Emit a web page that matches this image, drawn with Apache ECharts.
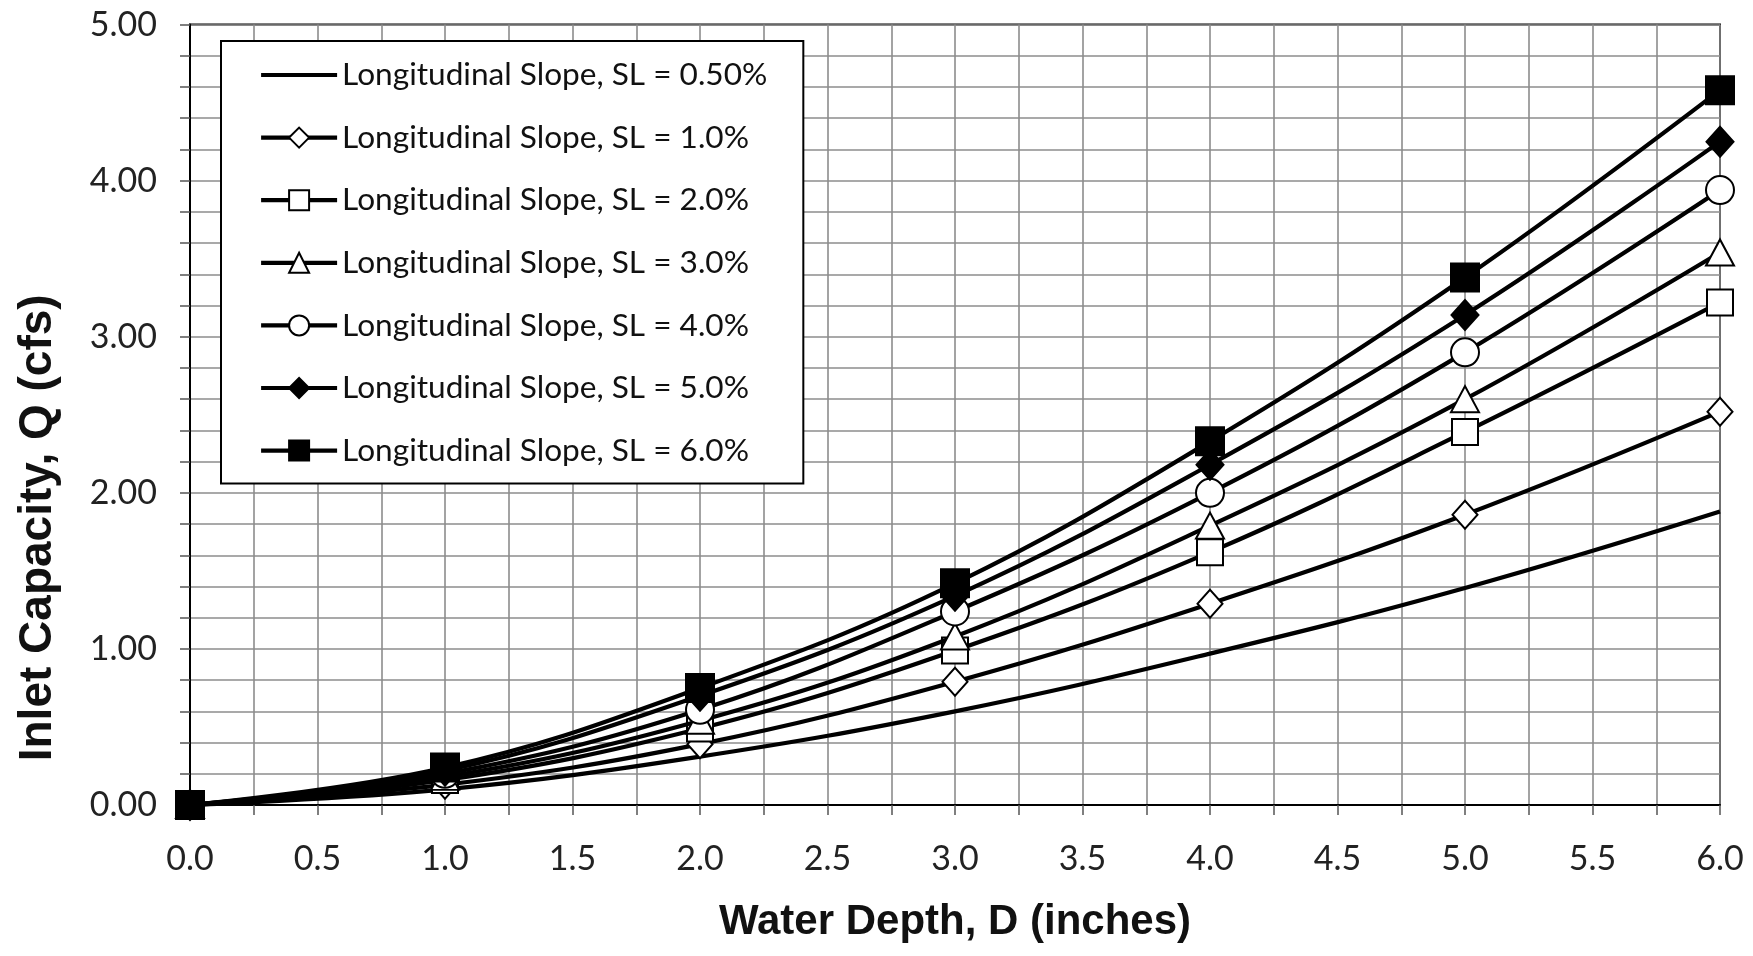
<!DOCTYPE html>
<html>
<head>
<meta charset="utf-8">
<title>Inlet Capacity vs Water Depth</title>
<script src="https://cdn.jsdelivr.net/npm/echarts@6/dist/echarts.min.js"></script>
<style>
  html, body { margin: 0; padding: 0; background: #ffffff; }
  #chart { width: 1753px; height: 956px; }
</style>
</head>
<body>
<div id="chart"></div>
<script>
// Water depth, D (inches)
const depths = [0, 1, 2, 3, 4, 5, 6];

// Inlet capacity, Q (cfs), one array per longitudinal slope
const q050 = [0, 0.10, 0.31, 0.60, 0.97, 1.39, 1.88];
const q100 = [0, 0.13, 0.39, 0.79, 1.29, 1.86, 2.52];
const q200 = [0, 0.16, 0.49, 0.99, 1.62, 2.39, 3.22];
const q300 = [0, 0.18, 0.54, 1.08, 1.79, 2.60, 3.54];
const q400 = [0, 0.20, 0.61, 1.24, 2.00, 2.90, 3.94];
const q500 = [0, 0.22, 0.70, 1.34, 2.18, 3.14, 4.25];
const q600 = [0, 0.24, 0.75, 1.42, 2.33, 3.38, 4.58];

const seriesNames = [
  'Longitudinal Slope, SL = 0.50%',
  'Longitudinal Slope, SL = 1.0%',
  'Longitudinal Slope, SL = 2.0%',
  'Longitudinal Slope, SL = 3.0%',
  'Longitudinal Slope, SL = 4.0%',
  'Longitudinal Slope, SL = 5.0%',
  'Longitudinal Slope, SL = 6.0%'
];

const textFont = "Lato, 'Liberation Sans', sans-serif";
const boldFont = "'Liberation Sans', Arial, sans-serif";

// marker look for each slope
const markers = [
  { symbol: 'none' },
  { symbol: 'diamond', size: [25, 28], fill: '#ffffff' },
  { symbol: 'rect', size: 26, fill: '#ffffff' },
  { symbol: 'triangle', size: [28, 26], fill: '#ffffff' },
  { symbol: 'circle', size: 28, fill: '#ffffff' },
  { symbol: 'diamond', size: [27, 30], fill: '#000000' },
  { symbol: 'rect', size: 28, fill: '#000000' }
];

const values = [q050, q100, q200, q300, q400, q500, q600];

const series = values.map((vals, i) => {
  const m = markers[i];
  const s = {
    name: seriesNames[i],
    type: 'line',
    smooth: 0.4,
    clip: false,
    data: depths.map((d, k) => [d, vals[k]]),
    lineStyle: { color: '#000000', width: 4.2 },
    emphasis: { disabled: true },
    z: 3 + i
  };
  if (m.symbol === 'none') {
    s.symbol = 'none';
    s.showSymbol = false;
    s.itemStyle = { color: '#000000' };
  } else {
    s.symbol = m.symbol;
    s.symbolSize = m.size;
    s.showSymbol = true;
    s.itemStyle = { color: m.fill, borderColor: '#000000', borderWidth: 2 };
  }
  return s;
});

const legendData = seriesNames.map((n, i) => {
  if (i === 0) {
    return { name: n, itemStyle: { color: 'rgba(0,0,0,0)', borderColor: 'rgba(0,0,0,0)', borderWidth: 0 } };
  }
  return { name: n };
});

const chart = echarts.init(document.getElementById('chart'), null, { renderer: 'canvas' });

chart.setOption({
  animation: false,
  backgroundColor: '#ffffff',
  grid: {
    left: 190, right: 33, top: 24.6, bottom: 151,
    show: true, borderColor: '#000000', borderWidth: 2,
    backgroundColor: 'transparent'
  },
  legend: {
    data: legendData,
    orient: 'vertical',
    left: 221, top: 41,
    padding: [17, 36, 16, 38],
    itemWidth: 76, itemHeight: 25, itemGap: 28.6,
    backgroundColor: '#ffffff',
    borderColor: '#000000', borderWidth: 2,
    selectedMode: false,
    lineStyle: { width: 4.2, color: '#000000' },
    textStyle: { fontFamily: textFont, fontSize: 31.6, lineHeight: 34, color: '#111111' }
  },
  xAxis: {
    type: 'value',
    min: 0, max: 6, interval: 0.25,
    name: 'Water Depth, D (inches)',
    nameLocation: 'middle', nameGap: 96,
    nameTextStyle: { fontFamily: boldFont, fontWeight: 'bold', fontSize: 42, color: '#111111' },
    axisLine: { show: true, onZero: false, lineStyle: { color: '#000000', width: 2 } },
    axisTick: { show: true, inside: false, length: 10, lineStyle: { color: '#555555', width: 1.5 } },
    axisLabel: {
      margin: 37, fontFamily: textFont, fontSize: 34, color: '#222222',
      formatter: v => (Math.abs(v * 2 - Math.round(v * 2)) < 1e-6 ? v.toFixed(1) : '')
    },
    splitLine: { show: true, lineStyle: { color: '#8c8c8c', width: 1.6 } }
  },
  yAxis: {
    type: 'value',
    min: 0, max: 5, interval: 0.2,
    name: 'Inlet Capacity, Q (cfs)',
    nameLocation: 'middle', nameGap: 129,
    nameTextStyle: {
      fontFamily: boldFont, fontWeight: 'bold', fontSize: 46, color: '#111111',
      padding: [0, 226, 0, 0]
    },
    axisLine: { show: true, onZero: false, lineStyle: { color: '#000000', width: 2 } },
    axisTick: { show: true, inside: false, length: 10, lineStyle: { color: '#555555', width: 1.5 } },
    axisLabel: {
      margin: 33, fontFamily: textFont, fontSize: 34, color: '#222222',
      formatter: v => (Math.abs(v - Math.round(v)) < 1e-6 ? v.toFixed(2) : '')
    },
    splitLine: { show: true, lineStyle: { color: '#8c8c8c', width: 1.6 } }
  },
  series: series
});
</script>
</body>
</html>
